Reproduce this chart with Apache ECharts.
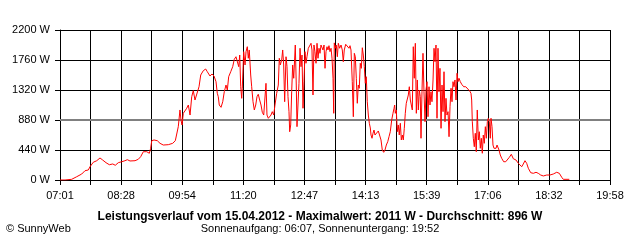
<!DOCTYPE html>
<html><head><meta charset="utf-8">
<script src="https://cdn.jsdelivr.net/npm/echarts@6/dist/echarts.min.js"></script>
<style>html,body{margin:0;padding:0;background:#fff}#c{width:640px;height:240px}</style>
</head><body><div id="c"></div>
<script>
// x tick labels (every second grid line)
const tickLabels = ['07:01','08:28','09:54','11:20','12:47','14:13','15:39','17:06','18:32','19:58'];
// minutes after 07:01
const minutesSince0701 = [0,7.1,16.5,23.6,30.7,35.3,40.0,42.4,47.0,51.9,56.5,60.3,65.0,69.7,74.5,78.1,82.4,87.2,91.8,95.1,
98.9,101.7,106.0,110.6,114.0,117.7,122.5,126.2,128.1,129.6,132.8,137.5,141.3,145.9,153.0,159.2,162.9,164.9,167.1,169.5,
170.9,172.4,174.2,179.0,181.3,183.7,186.1,188.3,190.7,193.1,196.4,198.8,202.4,205.8,208.1,211.9,214.7,217.6,220.4,222.2,
223.6,225.0,227.5,229.9,232.1,234.5,236.4,238.3,241.2,244.0,246.2,248.6,251.0,252.5,253.9,255.3,256.7,257.5,259.5,261.4,
262.8,264.6,266.0,267.4,269.4,270.8,272.7,274.5,276.5,278.3,280.1,282.1,284.0,285.8,287.8,289.6,291.0,292.4,294.3,296.2,
298.1,299.9,301.9,303.7,306.1,308.4,309.8,311.2,313.2,314.6,316.0,317.4,319.3,320.7,322.1,323.5,324.5,325.9,327.3,328.7,
330.2,331.6,332.4,333.8,334.8,336.2,337.6,339.1,340.5,341.9,343.3,344.7,346.1,347.5,348.9,350.8,352.8,354.6,356.0,357.4,
358.8,360.2,361.7,363.1,364.5,365.9,367.3,368.7,370.1,371.5,373.0,374.4,375.8,377.2,378.6,380.0,381.4,382.9,384.3,385.7,
386.7,387.5,388.9,390.3,391.8,393.2,395.1,397.0,398.8,400.2,401.6,403.6,405.9,408.3,409.7,411.1,412.9,414.4,415.8,417.2,
418.6,420.0,421.4,422.8,424.2,425.7,427.1,428.5,429.9,431.3,432.7,434.1,435.6,437.0,438.4,439.4,440.8,442.2,443.6,445.0,
446.4,447.8,449.7,451.7,453.5,455.3,457.3,459.1,461.0,463.0,464.8,466.6,468.6,470.4,471.9,472.8,473.7,475.1,476.5,477.9,
479.3,480.8,482.2,483.6,485.0,486.4,487.8,489.2,490.6,492.1,493.5,494.9,496.3,497.7,499.1,500.5,502.0,503.4,504.8,506.2,
507.6,509.0,510.0,511.4,512.8,514.2,515.7,517.1,518.5,519.9,521.3,522.7,524.1,525.5,527.0,528.4,529.8,531.2,532.6,534.0,
535.4,536.8,538.3,539.7,541.1,542.5,543.9,545.3,546.7,548.2,549.6,551.0,552.4,553.8,555.2,556.6,558.0,559.5,560.9,562.3,
563.7,565.5,567.5,570.3,573.2,576.0,578.8,580.6,581.6,582.5,583.9,585.3,586.7,588.1,589.5,591.0,592.4,593.8,595.2,596.6,
598.0,599.4,600.9,602.3,603.7,605.1,606.5,607.9,608.9,610.3,611.7,613.1,614.6,616.0,617.4,618.8,620.2,622.0,624.0,626.8,
629.7,632.5,634.8,637.6,640.4,644.2,647.5,649.9,652.3,654.5,656.9,659.3,661.6,665.0,668.7,672.5,675.7,679.1,682.8,687.6,
692.2,696.9,701.7,705.4,708.8,711.0,719.5];
// power in W
const watts = [0,0,10,48,88,136,147,195,260,283,323,293,254,224,235,216,254,268,283,298,
279,260,283,304,342,415,415,392,465,576,587,576,538,513,518,538,576,587,782,1027,
880,807,978,1052,1100,953,1222,1310,1173,1198,1368,1540,1603,1628,1588,1525,1555,1525,1442,1272,
1222,1100,1066,1148,1295,1393,1320,1515,1588,1662,1770,1808,1833,1662,1833,1368,1198,1345,1882,1687,
1882,1955,1785,1907,1540,1368,1148,1027,1100,1222,1257,1173,1100,993,953,928,1418,953,905,928,
953,1002,953,1100,1272,1393,1785,1687,1760,1907,1687,1148,1808,1662,1222,1002,708,807,1295,1687,
1492,1467,1980,1393,782,1100,1418,1932,1662,1833,1052,1442,1882,1712,1808,1932,1955,2005,1907,1247,
1980,1882,1712,2005,1785,1932,1858,1980,1955,1907,1980,1638,1882,1955,1907,1970,1882,1932,1785,1492,
978,2011,1932,1980,1808,2005,1932,1980,1907,1735,1907,1990,1980,1932,1970,1907,1442,928,1858,1808,
1492,1125,1393,1345,1712,1638,1940,1833,1662,1418,1515,1148,953,832,763,660,612,685,733,660,
635,685,719,700,587,440,406,440,513,562,635,708,880,978,1052,1100,978,1027,708,807,
660,832,587,660,587,758,978,1125,1148,1247,1368,1173,1148,1027,1955,1492,2005,978,1467,1027,
1320,1222,612,1295,1858,1295,855,1320,1442,928,1368,1100,1295,1148,1467,1932,1735,1980,905,1932,
1295,1638,758,1393,1002,1588,855,1198,953,1002,635,1075,1345,1148,1442,1368,1467,1173,1565,1442,
1492,1442,1404,1368,1368,1345,1305,1272,1173,855,612,488,685,415,1027,587,708,465,612,392,
660,538,782,612,855,905,855,612,905,782,513,465,440,465,513,488,440,367,318,268,
268,293,333,377,312,293,245,235,195,235,283,245,172,107,98,113,98,73,59,73,
73,88,113,98,40,10,10];
const yTicks = {min: 0, max: 2200, step: 440};
const refLine = 880;
const titleText = 'Leistungsverlauf vom 15.04.2012 - Maximalwert: 2011 W - Durchschnitt: 896 W';
const subText = 'Sonnenaufgang: 06:07, Sonnenuntergang: 19:52';
const creditText = '\u00A9 SunnyWeb';

const STEP = 2590; // seconds between vertical grid lines
const data = minutesSince0701.map((m, i) => [m * 60, watts[i]]);
const font = '"Liberation Sans", Arial, sans-serif';
const chart = echarts.init(document.getElementById('c'), null, {renderer: 'canvas'});
chart.setOption({
  animation: false,
  backgroundColor: '#fff',
  grid: {left: 60, right: 30, top: 30, bottom: 60, containLabel: false},
  xAxis: {
    type: 'value', min: 0, max: STEP * 18, interval: STEP,
    axisLine: {show: true, lineStyle: {color: '#000', width: 1}},
    axisTick: {show: true, inside: false, length: 5, lineStyle: {color: '#000'}},
    splitLine: {show: true, lineStyle: {color: '#000', width: 1}},
    axisLabel: {
      margin: 10, color: '#000', fontSize: 11, fontFamily: font,
      formatter: v => { const k = Math.round(v / STEP); return k % 2 === 0 ? tickLabels[k / 2] : ''; }
    }
  },
  yAxis: {
    type: 'value', min: yTicks.min, max: yTicks.max, interval: yTicks.step,
    axisLine: {show: true, lineStyle: {color: '#000', width: 1}},
    axisTick: {show: true, inside: false, length: 5, lineStyle: {color: '#000'}},
    splitLine: {show: true, lineStyle: {color: '#000', width: 1}},
    axisLabel: {margin: 10, color: '#000', fontSize: 11, fontFamily: font, formatter: v => String(Math.round(v)) + ' W'}
  },
  series: [{
    type: 'line', data: data, showSymbol: false, symbol: 'none',
    lineStyle: {color: '#ff0000', width: 1},
    z: 3,
    markLine: {
      silent: true, symbol: 'none', label: {show: false},
      lineStyle: {color: '#808080', width: 2, type: 'solid'},
      data: [{yAxis: refLine}], z: 2
    }
  }],
  graphic: [
    {type: 'text', x: 320, y: 217, style: {text: titleText, fill: '#000', font: 'bold 12px ' + font, textAlign: 'center', textVerticalAlign: 'middle'}},
    {type: 'text', x: 320, y: 229, style: {text: subText, fill: '#000', font: '11px ' + font, textAlign: 'center', textVerticalAlign: 'middle'}},
    {type: 'text', x: 6, y: 229, style: {text: creditText, fill: '#000', font: '11px ' + font, textAlign: 'left', textVerticalAlign: 'middle'}}
  ]
});
</script></body></html>
